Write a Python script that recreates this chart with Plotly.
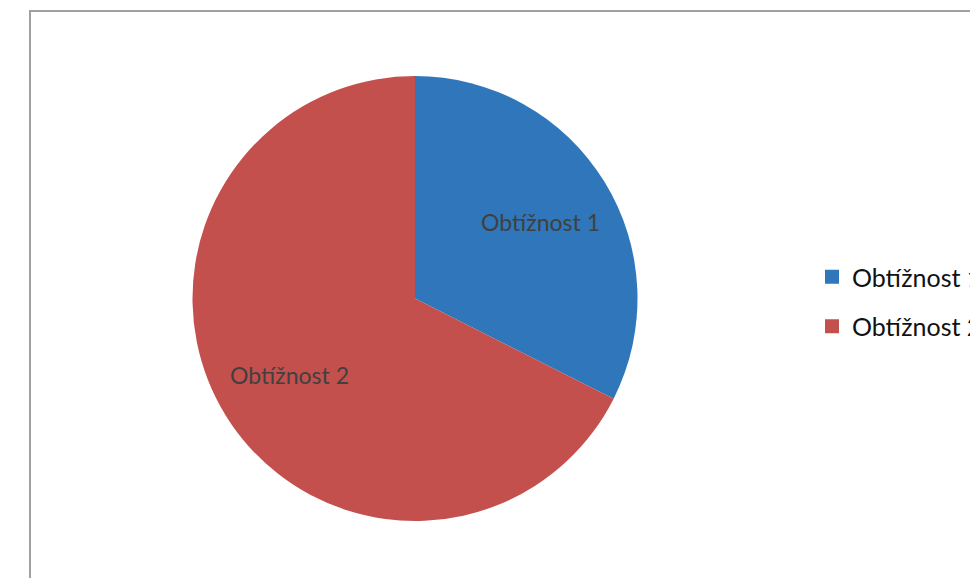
import math
import plotly.graph_objects as go

labels = ["Obtížnost 1", "Obtížnost 2"]
values = [12, 25]
colors = ["#2F77BA", "#C4504E"]

W, H = 970, 578

# pie placement (style)
dom_x = [192.5 / W, 637.5 / W]
dom_y = [1 - 521 / H, 1 - 76 / H]
label_r = 0.66  # data labels at this fraction of the radius, on each slice's mid angle

fig = go.Figure()
fig.add_trace(go.Pie(
    labels=labels,
    values=values,
    sort=False,
    direction="clockwise",
    rotation=0,
    marker=dict(colors=colors, line=dict(width=0)),
    textinfo="none",
    domain=dict(x=dom_x, y=dom_y),
    hoverinfo="label+value+percent",
    showlegend=False,
))

# data labels on each slice, positioned from the values (mid angle of each slice)
cx = (dom_x[0] + dom_x[1]) / 2 * W
cy = (dom_y[0] + dom_y[1]) / 2 * H
r = min((dom_x[1] - dom_x[0]) * W, (dom_y[1] - dom_y[0]) * H) / 2
total = sum(values)
cum = 0.0
for lab, v in zip(labels, values):
    mid = (cum + v / 2) / total * 2 * math.pi
    cum += v
    px = cx + label_r * r * math.sin(mid)
    py = cy + label_r * r * math.cos(mid)
    fig.add_annotation(
        x=px / W, y=py / H, xref="paper", yref="paper",
        text=lab, showarrow=False, xanchor="center", yanchor="middle",
        font=dict(family="Lato", size=23, color="#404040"),
    )

# legend entries built from the same labels / colours
for i, (lab, col) in enumerate(zip(labels, colors)):
    fig.add_trace(go.Scatter(
        x=[None], y=[None], mode="markers", name=lab,
        marker=dict(symbol="square", size=14, color=col),
        legendgroup=f"g{i}", showlegend=True, hoverinfo="skip",
    ))

fig.update_layout(
    width=W, height=H,
    margin=dict(l=0, r=0, t=0, b=0, autoexpand=False),
    paper_bgcolor="white",
    plot_bgcolor="white",
    xaxis=dict(visible=False),
    yaxis=dict(visible=False),
    showlegend=True,
    legend=dict(
        x=812 / W, xanchor="left",
        y=1 - 301.5 / H, yanchor="middle",
        font=dict(family="Lato", size=25, color="#111111"),
        itemwidth=30,
        tracegroupgap=14,
        bgcolor="rgba(0,0,0,0)",
    ),
    shapes=[
        dict(type="rect", xref="paper", yref="paper",
             x0=30 / W, x1=1.05, y0=-0.05, y1=1 - 11 / H,
             line=dict(color="#A0A0A0", width=2), fillcolor="rgba(0,0,0,0)", layer="below"),
    ],
)

fig.write_html(
    "out.html",
    config={"displayModeBar": False},
    post_script="document.body.style.margin='0';document.body.style.overflow='hidden';",
)
